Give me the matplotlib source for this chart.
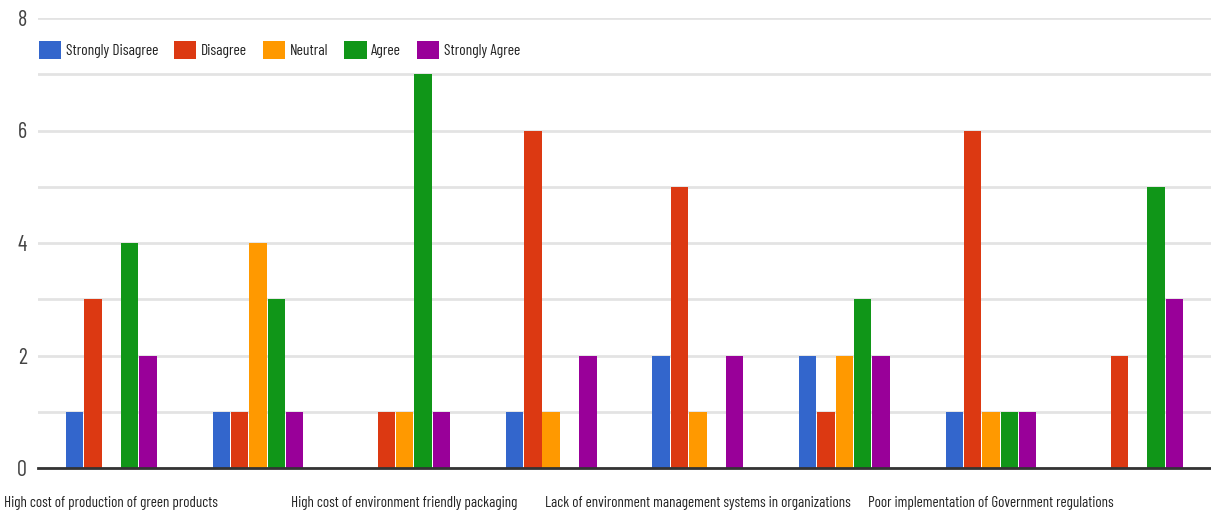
import numpy as np
import matplotlib.pyplot as plt

# Survey responses per barrier (8 statements, labels shown on every other one)
statements = [
    "High cost of production of green products", "",
    "High cost of environment friendly packaging", "",
    "Lack of environment management systems in organizations", "",
    "Poor implementation of Government regulations", "",
]
responses = ["Strongly Disagree", "Disagree", "Neutral", "Agree", "Strongly Agree"]
strongly_disagree = [1, 1, 0, 1, 2, 2, 1, 0]
disagree = [3, 1, 1, 6, 5, 1, 6, 2]
neutral = [0, 4, 1, 1, 1, 2, 1, 0]
agree = [4, 3, 7, 0, 0, 3, 1, 5]
strongly_agree = [2, 1, 1, 2, 2, 2, 1, 3]
colors = ["#3366cc", "#dc3912", "#ff9900", "#109618", "#990099"]

plt.rcParams["font.family"] = ["Barlow Condensed", "Roboto Condensed", "DejaVu Sans"]
plt.rcParams["font.stretch"] = "condensed"

fig = plt.figure(figsize=(12.11, 5.17), dpi=100)
ax = fig.add_axes([38 / 1211, 1 - 468 / 517, 1 - 38 / 1211, 450 / 517])

series = [strongly_disagree, disagree, neutral, agree, strongly_agree]
x = np.arange(len(statements))
width = 0.125
for i, (vals, name, c) in enumerate(zip(series, responses, colors)):
    ax.bar(x + (i - 2) * width, vals, width * 0.95, color=c, label=name,
           zorder=3, linewidth=0)

ax.set_xlim(-0.5, len(statements) - 0.5)
ax.set_ylim(0, 8)
ax.set_yticks([0, 2, 4, 6, 8])
ax.set_yticks(range(9), minor=True)
ax.grid(axis="y", which="both", color="#e3e3e3", linewidth=2, zorder=0)
ax.tick_params(axis="y", which="both", length=0, labelsize=16, colors="#444444", pad=8)
ax.tick_params(axis="x", length=0, labelsize=10.8, colors="#222222", pad=20)
ax.set_xticks(x)
ax.set_xticklabels(statements)
for s in ["top", "right", "left"]:
    ax.spines[s].set_visible(False)
ax.spines["bottom"].set_color("#333333")
ax.spines["bottom"].set_linewidth(2)
ax.spines["bottom"].set_zorder(4)

leg = ax.legend(loc="center left", bbox_to_anchor=(-0.002, 0.929), ncol=5, frameon=True,
                fontsize=11.2, handlelength=1.45, handleheight=1.35, handletextpad=0.3,
                columnspacing=1.0, borderaxespad=0, borderpad=0.2, edgecolor="white",
                facecolor="white", framealpha=1)
leg.get_frame().set_linewidth(0)
for t in leg.get_texts():
    t.set_color("#222222")

fig.savefig("out.png", dpi=100, facecolor="white")
